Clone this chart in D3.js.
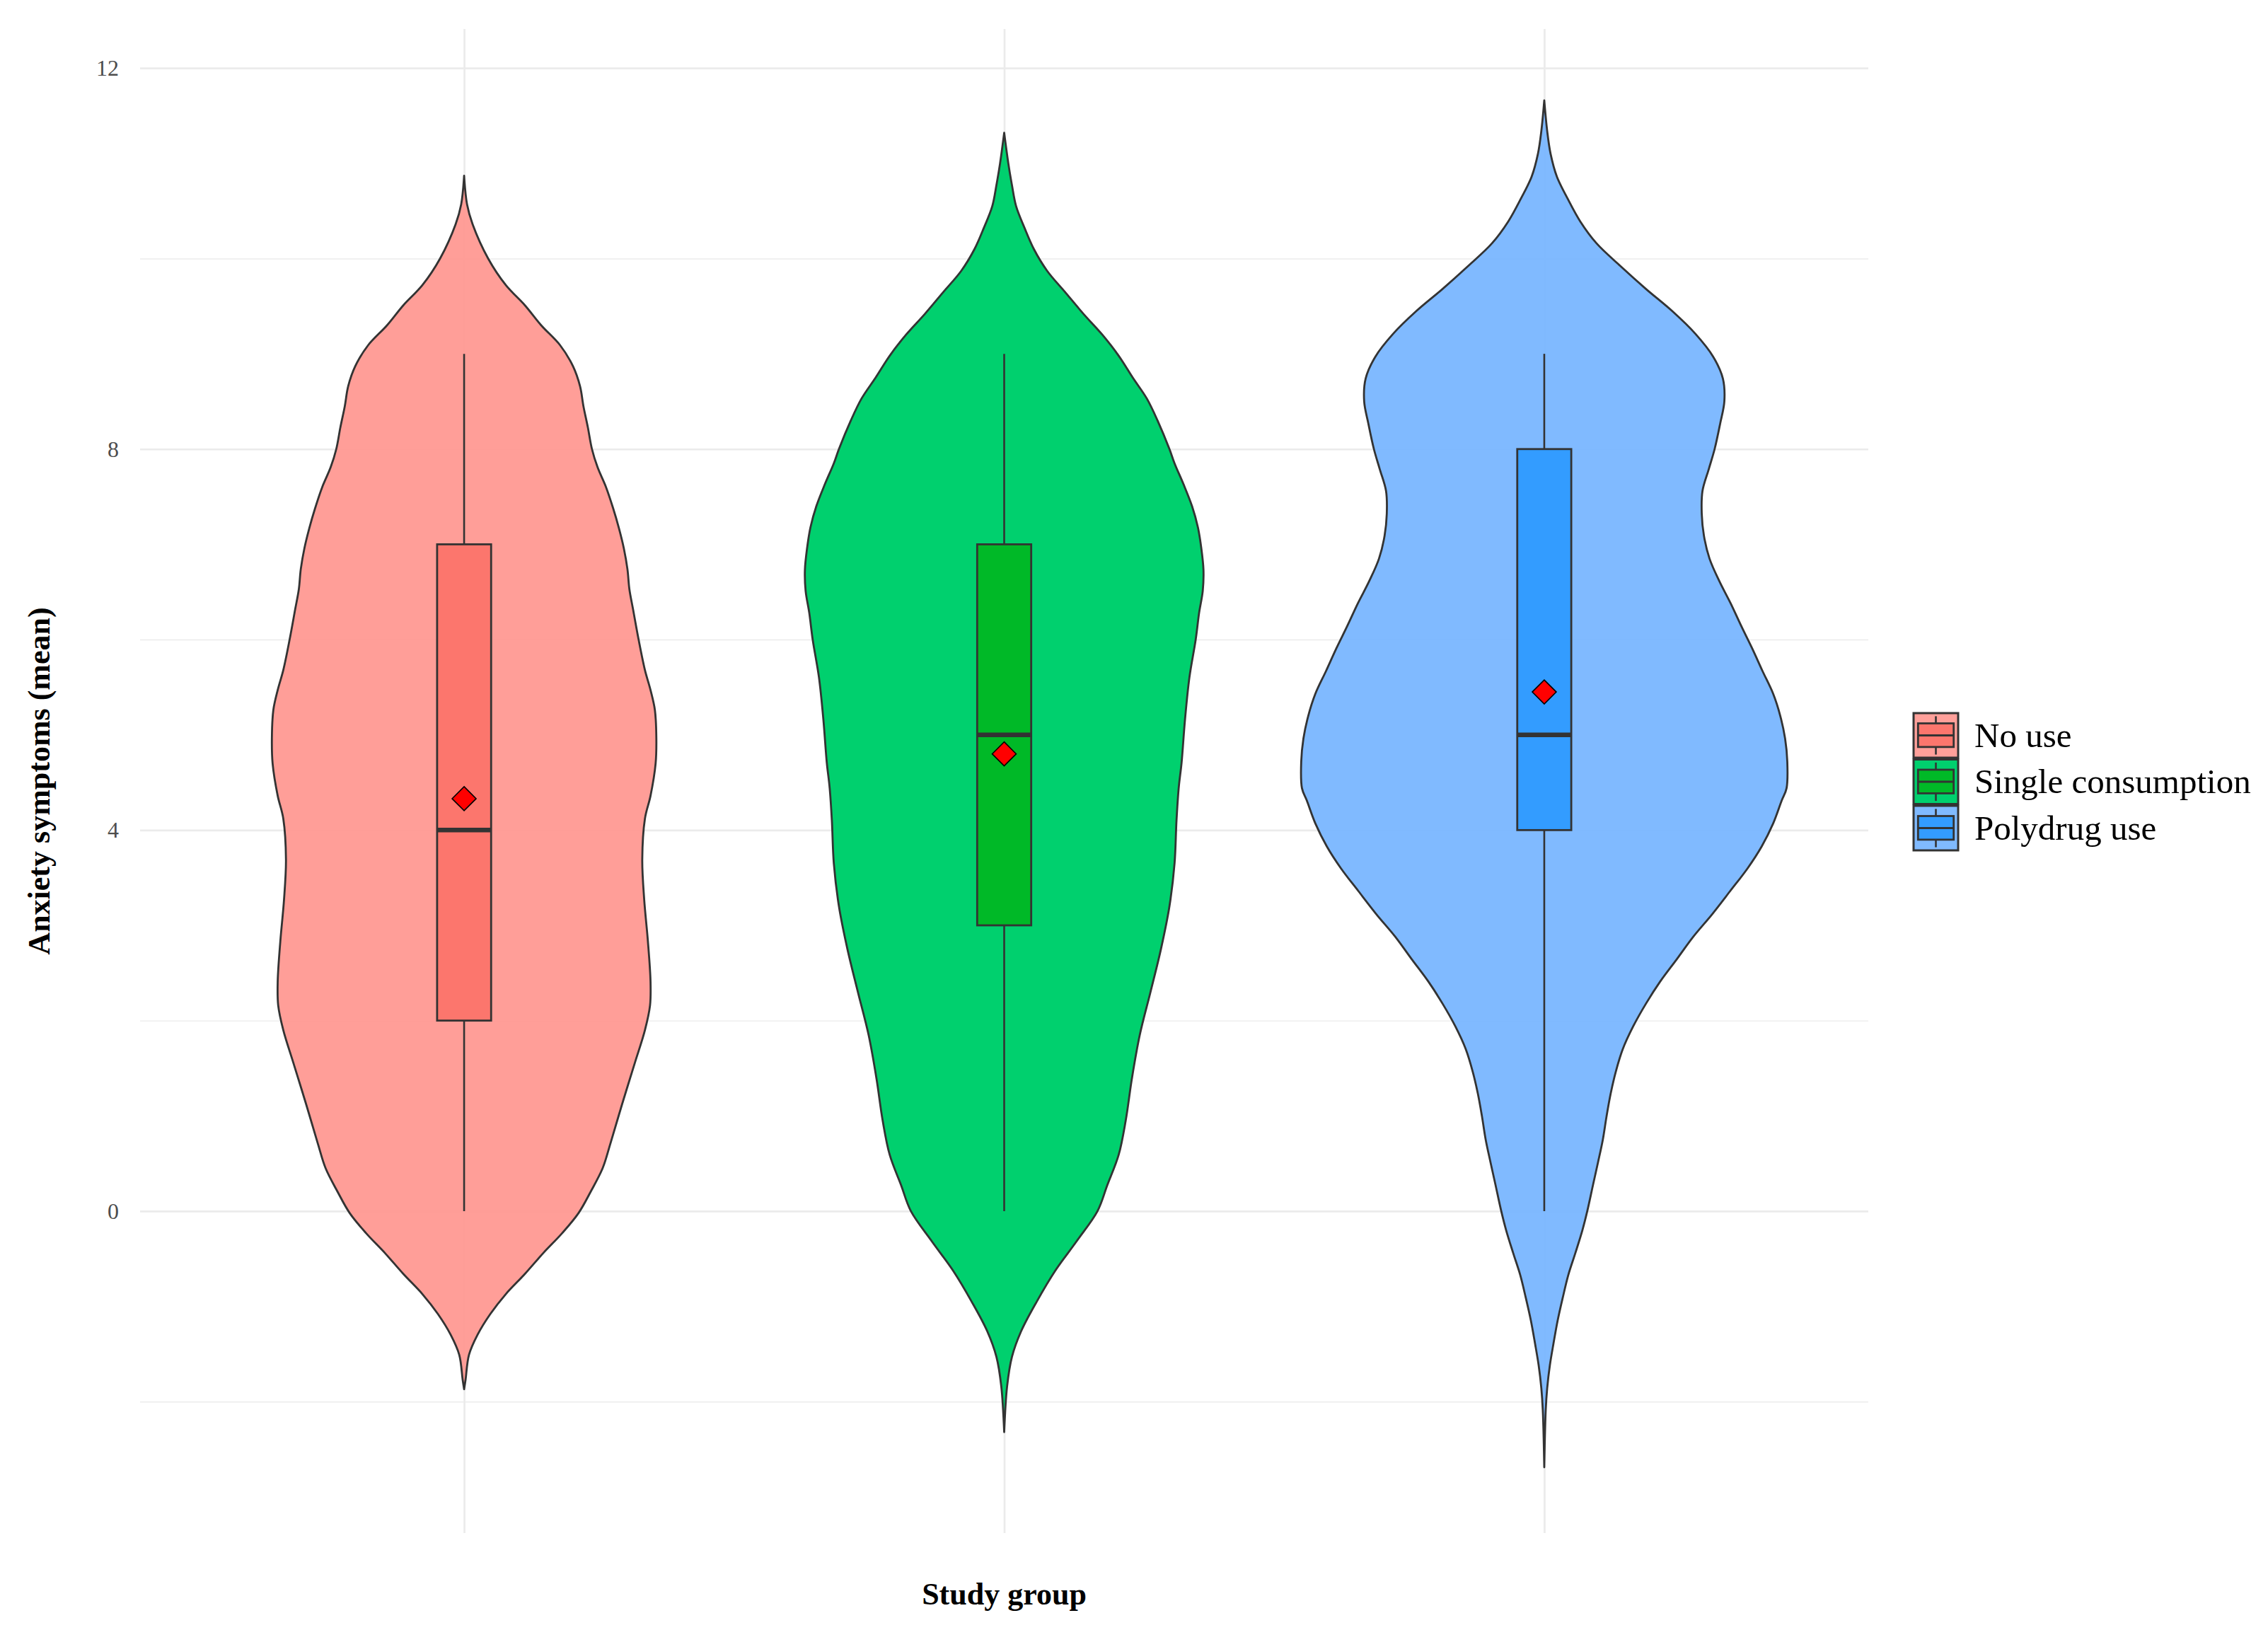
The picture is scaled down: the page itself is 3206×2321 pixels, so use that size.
<!DOCTYPE html>
<html><head><meta charset="utf-8">
<script src="https://cdn.jsdelivr.net/npm/d3@7"></script>
<style>body{margin:0;background:#fff}</style>
</head><body><svg id="c" width="3206" height="2321"></svg>
<script>
// ---------- data ----------
const categories = ["No use", "Single consumption", "Polydrug use"];
const q1 = [2, 3, 4];
const medians = [4, 5, 5];
const q3 = [7, 7, 8];
const whiskerLow = [0, 0, 0];
const whiskerHigh = [9, 9, 9];
const means = [4.33, 4.80, 5.45];
const yTicksMajor = [0, 4, 8, 12];
const yTicksMinor = [-2, 2, 6, 10];
const xTitle = "Study group";
const yTitle = "Anxiety symptoms (mean)";

// violin density profiles (value, scaled density; 1 = widest violin)
const densYNoUse = [10.87,10.57,10.36,10.0,9.72,9.51,9.30,9.09,8.87,8.66,8.45,8.23,8.0,7.81,7.6,7.38,7.17,6.96,6.74,6.53,6.32,6.0,5.68,5.47,5.26,4.96,4.70,4.36,4.12,3.69,3.27,2.84,2.41,2.16,1.90,1.56,1.13,0.71,0.45,0.20,-0.02,-0.23,-0.44,-0.66,-0.87,-1.08,-1.30,-1.51,-1.77,-1.87];
const densWNoUse = [0,.012,.035,.099,.172,.250,.317,.395,.448,.477,.491,.509,.526,.549,.584,.613,.637,.657,.672,.680,.695,.718,.744,.767,.785,.791,.788,.767,.744,.733,.741,.756,.767,.765,.744,.703,.651,.602,.570,.520,.471,.404,.326,.250,.172,.108,.055,.020,.006,0];
const densYSingle = [11.32,11.0,10.77,10.55,10.32,10.1,9.87,9.65,9.42,9.2,8.98,8.75,8.53,8.30,8.0,7.85,7.63,7.40,7.18,6.96,6.73,6.51,6.28,6.0,5.6,5.16,4.71,4.44,4.10,3.65,3.2,2.75,2.3,1.85,1.40,0.95,0.59,0.27,0,-0.32,-0.63,-0.95,-1.26,-1.53,-1.84,-2.32];
const densWSingle = [0,.017,.032,.049,.084,.122,.177,.250,.326,.404,.471,.529,.587,.631,.680,.701,.738,.773,.797,.811,.820,.817,.802,.788,.762,.744,.730,.718,.709,.701,.680,.645,.602,.558,.526,.500,.471,.424,.384,.297,.209,.134,.070,.032,.012,0];
const densYPoly = [11.66,11.34,11.1,10.86,10.63,10.39,10.16,9.92,9.68,9.45,9.21,8.97,8.74,8.50,8.27,8.0,7.79,7.56,7.32,7.09,6.85,6.61,6.38,6.14,5.91,5.67,5.43,5.20,4.96,4.72,4.44,4.31,4.07,3.83,3.60,3.36,3.12,2.88,2.65,2.41,2.18,1.94,1.70,1.46,1.23,0.99,0.75,0.51,0.28,0,-0.20,-0.44,-0.67,-0.91,-1.15,-1.39,-1.62,-1.86,-2.09,-2.69];
const densWPoly = [0,.012,.026,.052,.096,.148,.215,.314,.419,.526,.622,.695,.735,.741,.724,.701,.677,.651,.648,.657,.680,.721,.767,.811,.855,.898,.942,.971,.991,1,.997,.977,.942,.895,.837,.765,.692,.613,.547,.477,.419,.366,.323,.294,.273,.256,.241,.221,.201,.177,.157,.128,.099,.076,.055,.038,.023,.012,.006,0];
const densY = [densYNoUse, densYSingle, densYPoly];
const densW = [densWNoUse, densWSingle, densWPoly];

// ---------- styles ----------
const violinFill = ["#FF968F", "#00D06E", "#75B4FF"];
const violinOpacity = [0.92, 1, 0.92];
const legendBg = ["#FFA09A", "#00D06E", "#80BAFF"];
const boxFill = ["#FC766D", "#00B927", "#339CFF"];
const dark = "#333333";
const FONT = "'Liberation Serif', 'DejaVu Serif', serif";

const svg = d3.select("#c");
const panel = {left: 198, right: 2641, top: 41, bottom: 2167};

const x = d3.scalePoint().domain(categories).range([panel.left, panel.right]).padding(0.6);
const y = d3.scaleLinear().domain([-3.38, 12.41]).range([panel.bottom, panel.top]);
const step = x.step();
const violinHalf = 0.9 * step / 2;
const boxHalf = 0.1 * step / 2;

// ---------- grid ----------
const grid = svg.append("g");
grid.append("g").attr("transform", `translate(${panel.left},0)`)
  .call(d3.axisLeft(y).tickValues(yTicksMinor).tickSize(-(panel.right - panel.left)).tickFormat(""))
  .call(g => g.select(".domain").remove())
  .call(g => g.selectAll("line").attr("stroke", "#EBEBEB").attr("stroke-width", 1.4));
grid.append("g").attr("transform", `translate(${panel.left},0)`)
  .call(d3.axisLeft(y).tickValues(yTicksMajor).tickSize(-(panel.right - panel.left)).tickFormat(""))
  .call(g => g.select(".domain").remove())
  .call(g => g.selectAll("line").attr("stroke", "#EBEBEB").attr("stroke-width", 2.7));
grid.append("g").attr("transform", `translate(0,${panel.bottom})`)
  .call(d3.axisBottom(x).tickSize(-(panel.bottom - panel.top)).tickFormat(""))
  .call(g => g.select(".domain").remove())
  .call(g => g.selectAll("line").attr("stroke", "#EBEBEB").attr("stroke-width", 2.7));

// y tick labels
svg.append("g").attr("transform", `translate(${panel.left},0)`)
  .call(d3.axisLeft(y).tickValues(yTicksMajor).tickSize(0).tickPadding(30).tickFormat(d3.format("d")))
  .call(g => g.select(".domain").remove())
  .call(g => g.selectAll("text").attr("font-family", FONT).attr("font-size", 32).attr("fill", "#4D4D4D"));

// ---------- violins ----------
categories.forEach((cat, i) => {
  const cx = x(cat);
  const pts = densY[i].map((v, k) => [v, densW[i][k]]);
  const area = d3.area()
    .y(d => y(d[0]))
    .x0(d => cx - d[1] * violinHalf)
    .x1(d => cx + d[1] * violinHalf)
    .curve(d3.curveCatmullRom.alpha(0.5));
  svg.append("path").datum(pts).attr("d", area)
    .attr("fill", violinFill[i]).attr("fill-opacity", violinOpacity[i])
    .attr("stroke", dark).attr("stroke-width", 2.8).attr("stroke-linejoin", "round");
});

// ---------- boxplots ----------
categories.forEach((cat, i) => {
  const cx = x(cat);
  const g = svg.append("g");
  g.append("line").attr("x1", cx).attr("x2", cx).attr("y1", y(whiskerHigh[i])).attr("y2", y(q3[i]))
    .attr("stroke", dark).attr("stroke-width", 2.6);
  g.append("line").attr("x1", cx).attr("x2", cx).attr("y1", y(q1[i])).attr("y2", y(whiskerLow[i]))
    .attr("stroke", dark).attr("stroke-width", 2.6);
  g.append("rect").attr("x", cx - boxHalf).attr("width", 2 * boxHalf)
    .attr("y", y(q3[i])).attr("height", y(q1[i]) - y(q3[i]))
    .attr("fill", boxFill[i]).attr("stroke", dark).attr("stroke-width", 2.8);
  g.append("line").attr("x1", cx - boxHalf).attr("x2", cx + boxHalf)
    .attr("y1", y(medians[i])).attr("y2", y(medians[i]))
    .attr("stroke", dark).attr("stroke-width", 6.5);
  const my = y(means[i]), r = 17;
  g.append("path").attr("d", `M${cx},${my - r}L${cx + r},${my}L${cx},${my + r}L${cx - r},${my}Z`)
    .attr("fill", "#FF0000").attr("stroke", "#000").attr("stroke-width", 1.6);
});

// ---------- axis titles ----------
svg.append("text").attr("x", (panel.left + panel.right) / 2).attr("y", 2268)
  .attr("text-anchor", "middle").attr("font-family", FONT).attr("font-weight", "bold")
  .attr("font-size", 44).attr("fill", "#000").text(xTitle);
svg.append("text").attr("transform", `translate(70,${(panel.top + panel.bottom) / 2}) rotate(-90)`)
  .attr("text-anchor", "middle").attr("font-family", FONT).attr("font-weight", "bold")
  .attr("font-size", 44).attr("fill", "#000").text(yTitle);

// ---------- legend ----------
const keyX = 2705, keyTop = 1008, keySize = 63, keyGap = 2.5;
categories.forEach((cat, i) => {
  const ky = keyTop + i * (keySize + keyGap);
  const g = svg.append("g").attr("transform", `translate(${keyX},${ky})`);
  g.append("rect").attr("x", 0).attr("y", 0).attr("width", keySize).attr("height", keySize)
    .attr("fill", legendBg[i]).attr("stroke", dark).attr("stroke-width", 3);
  const cxk = keySize / 2;
  g.append("line").attr("x1", cxk).attr("x2", cxk).attr("y1", keySize * 0.07).attr("y2", keySize * 0.93)
    .attr("stroke", dark).attr("stroke-width", 2.6);
  g.append("rect").attr("x", keySize * 0.1).attr("width", keySize * 0.8)
    .attr("y", keySize * 0.23).attr("height", keySize * 0.53)
    .attr("fill", boxFill[i]).attr("stroke", dark).attr("stroke-width", 2.8);
  g.append("line").attr("x1", keySize * 0.1).attr("x2", keySize * 0.9)
    .attr("y1", keySize * 0.5).attr("y2", keySize * 0.5).attr("stroke", dark).attr("stroke-width", 3);
  svg.append("text").attr("x", 2791).attr("y", ky + keySize / 2).attr("dy", "0.33em")
    .attr("font-family", FONT).attr("font-size", 49).attr("fill", "#000").text(cat);
});
</script></body></html>
